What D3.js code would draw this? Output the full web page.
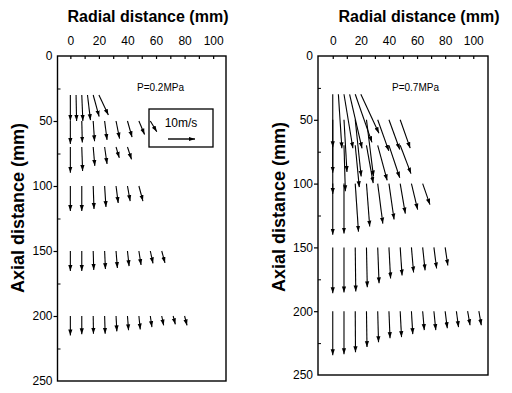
<!DOCTYPE html>
<html><head><meta charset="utf-8">
<script src="https://cdn.jsdelivr.net/npm/d3@7"></script>
<style>body{margin:0;background:#fff}svg{display:block}text{font-family:"Liberation Sans",Arial,sans-serif;fill:#000}</style>
</head><body><svg id="c" width="512" height="393"></svg>
<script>
// ---- tick labels ----
const radialTicks = [0, 20, 40, 60, 80, 100];
const axialTicks = [0, 50, 100, 150, 200, 250];
const panelLabels = ["P=0.2MPa", "P=0.7MPa"];
const refSpeed = 10; // m/s reference arrow

// ---- P = 0.2 MPa : axial levels (mm), radial positions (mm), radial u and axial w velocity (m/s) ----
const leftAxial = [30, 50, 70, 100, 150, 200];
const leftRadial = [
  [0, 4, 8, 12, 16, 20],
  [0, 8, 16, 24, 32, 40, 48, 56],
  [0, 8, 16, 24, 32, 40],
  [0, 8, 16, 24, 32, 40, 48],
  [0, 8, 16, 24, 32, 40, 48, 56, 64],
  [0, 8, 16, 24, 32, 40, 48, 56, 64, 72, 80]
];
const leftU = [
  [0, 0.2, 0.4, 1.1, 2.2, 3.5],
  [0, 0.2, 0.5, 0.9, 1.3, 1.7, 2.1, 2.4],
  [0, 0.3, 0.6, 0.9, 1.2, 1.5],
  [0, 0, 0.3, 0.5, 0.8, 1.0, 1.5],
  [0, 0, 0.2, 0.3, 0.5, 0.6, 0.8, 1.0, 1.2],
  [0, 0, 0.1, 0.2, 0.3, 0.4, 0.5, 0.6, 0.7, 0.8, 0.9]
];
const leftW = [
  [9.5, 9.6, 9.6, 9.3, 8.0, 7.4],
  [8.5, 8.0, 7.5, 7.0, 6.5, 6.0, 5.0, 4.0],
  [9.5, 8.9, 7.0, 6.3, 4.0, 4.6],
  [9.3, 9.3, 8.5, 7.8, 6.3, 5.6, 5.6],
  [7.4, 7.4, 7.0, 6.7, 6.3, 5.6, 5.2, 4.6, 4.4],
  [7.2, 6.8, 6.6, 6.6, 5.7, 5.3, 5.0, 4.1, 3.5, 3.1, 3.5]
];

// ---- P = 0.7 MPa ----
const rightAxial = [30, 50, 70, 100, 150, 200];
const rightRadial = [
  [0, 4, 8, 12, 16, 20],
  [0, 8, 16, 24, 32, 40, 48],
  [0, 8, 16, 24, 32, 40, 48],
  [0, 8, 16, 24, 32, 40, 48, 56, 64],
  [0, 8, 16, 24, 32, 40, 48, 56, 64, 72, 80],
  [0, 8, 16, 24, 32, 40, 48, 56, 64, 72, 80, 88, 96, 104]
];
const rightU = [
  [0, 1.3, 3.3, 4.6, 6.2, 6.7],
  [0, 1.1, 2.2, 2.6, 4.1, 4.0, 3.7],
  [0, 0.5, 1.5, 2.5, 3.5, 4.0, 4.0],
  [0, 0, 1.2, 1.2, 1.9, 1.9, 1.9, 2.3, 2.7],
  [0, 0, 0.2, 0.3, 0.5, 0.6, 0.7, 0.8, 0.9, 1.0, 1.0],
  [0, 0, 0.1, 0.2, 0.3, 0.4, 0.5, 0.5, 0.6, 0.7, 0.8, 0.8, 0.9, 0.9]
];
const rightW = [
  [19.6, 20, 20, 20, 17.8, 14.4],
  [19.6, 19.3, 21, 21, 11.5, 11, 10.5],
  [18, 17, 15.5, 14, 13, 12, 10.5],
  [18.9, 18.5, 17.8, 15.9, 14.8, 13.3, 11.1, 9.6, 7.8],
  [17, 16.7, 16.3, 14.8, 13.3, 11.5, 10.4, 9.3, 8.5, 7.8, 6.7],
  [16.3, 15.9, 15.2, 13.3, 11.5, 10, 9.6, 8.5, 7, 7, 6.3, 5.9, 5.2, 5.2]
];

const svg = d3.select("#c");
const defs = svg.append("defs");
defs.append("marker").attr("id", "ah").attr("viewBox", "0 0 10 10")
  .attr("refX", 10).attr("refY", 5).attr("markerWidth", 6).attr("markerHeight", 6)
  .attr("markerUnits", "userSpaceOnUse").attr("orient", "auto")
  .append("path").attr("d", "M0,1.5 L10,5 L0,8.5 Z").attr("fill", "#000");

const vScale = d3.scaleLinear().domain([0, refSpeed]).range([0, 27]);

function panel(cfg) {
  const x = d3.scaleLinear().domain(cfg.xd).range(cfg.xr);
  const y = d3.scaleLinear().domain([0, 250]).range(cfg.yr);
  const g = svg.append("g");
  g.append("rect").attr("x", cfg.xr[0]).attr("y", cfg.yr[0])
    .attr("width", cfg.xr[1] - cfg.xr[0]).attr("height", cfg.yr[1] - cfg.yr[0])
    .attr("fill", "none").attr("stroke", "#000").attr("stroke-width", 1.4);
  const top = d3.axisTop(x).tickValues(d3.range(0, 101, 10)).tickSize(-3)
    .tickFormat(d => radialTicks.includes(d) ? d : "");
  const gt = g.append("g").attr("transform", `translate(0,${cfg.yr[0]})`).call(top);
  gt.select(".domain").remove();
  gt.selectAll("line").attr("stroke", "#000").attr("stroke-width", 1.2);
  gt.selectAll("text").attr("y", -11).style("font-size", "12px");
  const left = d3.axisLeft(y).tickValues(axialTicks).tickSize(4).tickPadding(1);
  const gl = g.append("g").attr("transform", `translate(${cfg.xr[0]},0)`).call(left);
  gl.select(".domain").remove();
  gl.selectAll("line").attr("stroke", "#000").attr("stroke-width", 1.2);
  gl.selectAll(".tick").filter(d => d === 0 || d === 250).select("line").remove();
  gl.selectAll("text").style("font-size", "12px");
  const minor = d3.axisLeft(y).tickValues([25, 75, 125, 175, 225]).tickSize(-3).tickFormat("");
  const gm = g.append("g").attr("transform", `translate(${cfg.xr[0]},0)`).call(minor);
  gm.select(".domain").remove();
  gm.selectAll("line").attr("stroke", "#000");
  g.append("text").attr("x", cfg.titleX).attr("y", 22).attr("text-anchor", "middle")
    .style("font-size", "16px").style("font-weight", "bold").text("Radial distance (mm)");
  g.append("text").attr("transform", `translate(${cfg.axLabX},${cfg.axLabY}) rotate(-90)`)
    .attr("text-anchor", "middle").style("font-size", "18px").style("font-weight", "bold")
    .text("Axial distance (mm)");
  g.append("text").attr("x", cfg.pX).attr("y", 91).style("font-size", "10px").text(cfg.pLabel);
  cfg.axial.forEach((z, i) => {
    cfg.radial[i].forEach((r, j) => {
      const x0 = x(r), y0 = y(z);
      g.append("line").attr("x1", x0).attr("y1", y0)
        .attr("x2", x0 + vScale(cfg.u[i][j])).attr("y2", y0 + vScale(cfg.w[i][j]))
        .attr("stroke", "#000").attr("stroke-width", 1.1).attr("marker-end", "url(#ah)");
    });
  });
  return {x, y, g};
}

const L = panel({xd: [-9, 109], xr: [57.5, 226], yr: [56, 381], titleX: 148, axLabX: 24, axLabY: 208,
  pX: 137, pLabel: panelLabels[0], axial: leftAxial, radial: leftRadial, u: leftU, w: leftW});
const R = panel({xd: [-10.5, 110.5], xr: [318, 488], yr: [56, 375], titleX: 419, axLabX: 285, axLabY: 207,
  pX: 392, pLabel: panelLabels[1], axial: rightAxial, radial: rightRadial, u: rightU, w: rightW});

L.g.append("rect").attr("x", 149).attr("y", 109).attr("width", 64).attr("height", 38)
  .attr("fill", "none").attr("stroke", "#000").attr("stroke-width", 1.3);
L.g.append("text").attr("x", 181).attr("y", 127).attr("text-anchor", "middle").style("font-size", "12px").text("10m/s");
L.g.append("line").attr("x1", 168).attr("y1", 139).attr("x2", 168 + vScale(refSpeed)).attr("y2", 139)
  .attr("stroke", "#000").attr("stroke-width", 1.4).attr("marker-end", "url(#ah)");
</script></body></html>
